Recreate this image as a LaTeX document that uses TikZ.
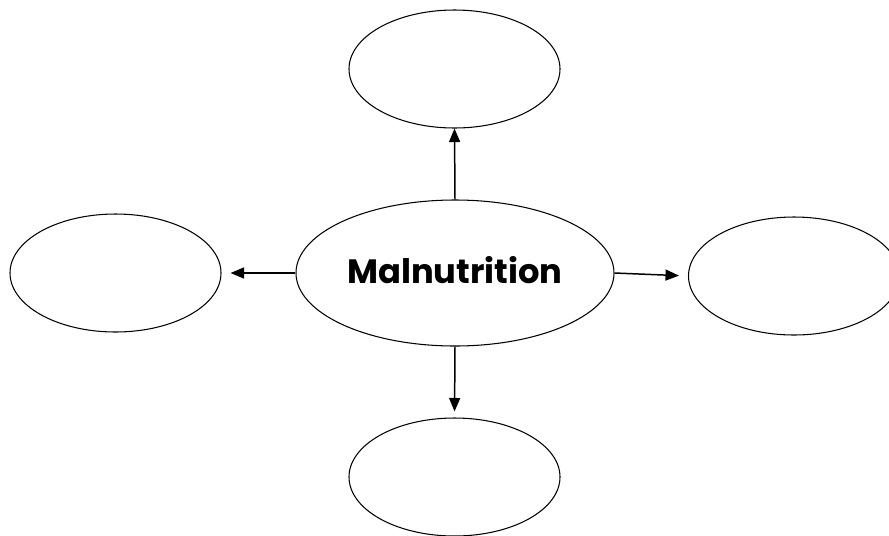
\documentclass[tikz,border=0pt]{standalone}
\usepackage{fontspec}
\setmainfont{Poppins}
\usetikzlibrary{shapes.geometric,arrows.meta}

\tikzset{
  bubble/.style={draw,ellipse,line width=0.6pt,inner sep=0pt,minimum width=4.22cm,minimum height=2.36cm},
  arr/.style={line width=0.85pt,-{Triangle[length=0.27cm,width=0.22cm]}}
}

\begin{document}
\begin{tikzpicture}
    \useasboundingbox (0,0) rectangle (17.78,-10.7);
    \clip (0,0) rectangle (17.78,-10.7);

    % Centre
    \node[bubble,minimum width=6.36cm,minimum height=2.92cm] (mal) at (9.10,-5.46) {};
    \node (maltext) at (9.10,-5.40) {\fontsize{19.2}{23}\selectfont\bfseries Malnutrition};

    % Four empty bubbles
    \node[bubble] (boxN) at (9.09,-1.38) {};
    \node[bubble] (boxS) at (9.09,-9.54) {};
    \node[bubble] (boxW) at (2.31,-5.46) {};
    \node[bubble] (boxE) at (15.88,-5.52) {};

    % Arrows
    \draw[arr] (mal.north) -- (boxN.south);
    \draw[arr,shorten >=0.12cm] (mal.south) -- (boxS.north);
    \draw[arr,shorten >=0.18cm] (mal.west) -- (boxW.east);
    \draw[arr,shorten >=0.18cm] (mal.east) -- (boxE.west);
\end{tikzpicture}
\end{document}
